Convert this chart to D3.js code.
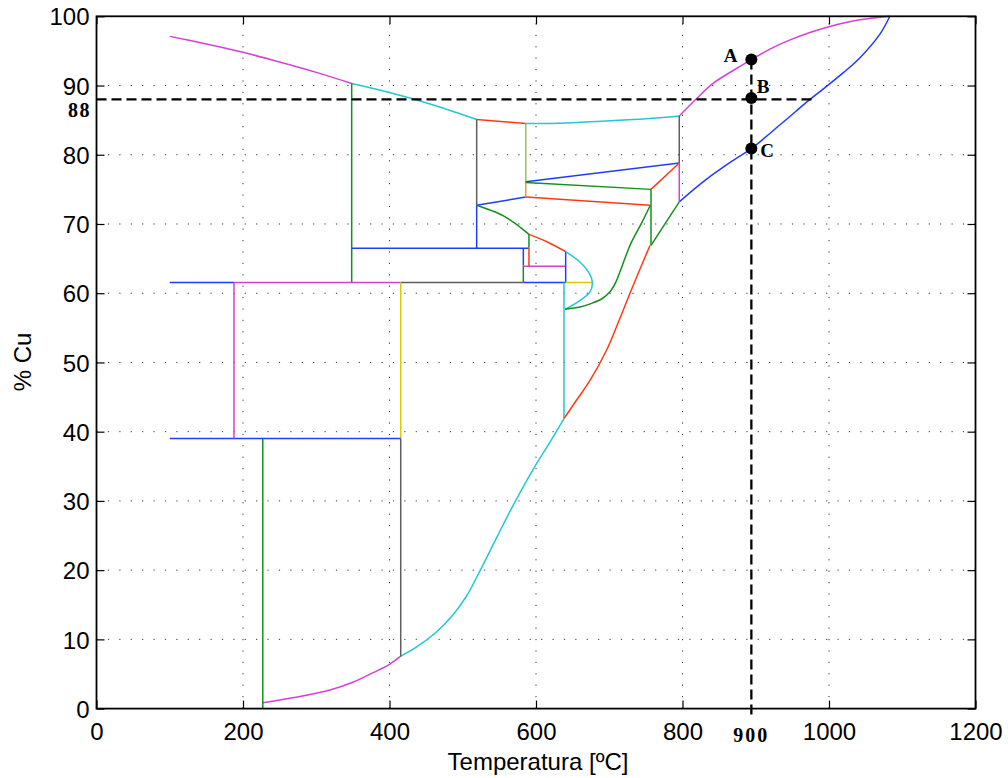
<!DOCTYPE html>
<html>
<head>
<meta charset="utf-8">
<script src="https://cdn.jsdelivr.net/npm/d3@7"></script>
<style>
  html, body { margin: 0; padding: 0; background: #fff; }
  svg { display: block; }
  .tick text { font-family: "Liberation Sans", Arial, Helvetica, sans-serif; font-size: 24px; fill: #000; }
</style>
</head>
<body>
<script>
// ---------- data ----------
const xTicks = [0, 200, 400, 600, 800, 1000, 1200];
const yTicks = [0, 10, 20, 30, 40, 50, 60, 70, 80, 90, 100];
const xLabel = "Temperatura [ºC]";
const yLabel = "% Cu";

// reference construction
const refT = 894;          // vertical dashed (labelled 900)
const refCu = 88;          // horizontal dashed (labelled 88)
const refTLabel = "900";
const refCuLabel = "88";
const refHEnd = 978.6;     // end of horizontal dashed line
const refVBottom = -1.1;   // vertical dashed runs a bit below the axis
const points = [["A", 894, 93.75], ["B", 894, 88.2], ["C", 894, 80.9]];

// phase-boundary segments  [T (ºC), Cu (%)]
const magentaTopLeft  = [[100,97.1],[150,96.0],[200,94.8],[250,93.4],[300,91.9],[348.4,90.3]];
const cyanTopLeft     = [[348.4,90.3],[400,89.0],[460,87.2],[519,85.1]];
const redTop          = [[519,85.1],[586,84.5]];
const cyanTopRight    = [[586,84.5],[640,84.6],[700,84.9],[750,85.2],[795.6,85.6]];
const magentaTopRight = [[795.6,85.6],[820,88.2],[841.6,90.3],[868,92.1],[894,93.75],[920,95.3],[946.8,96.6],[975,97.7],[1000,98.5],[1040,99.45],[1083,100]];
const blueRight       = [[795.6,73.2],[830.7,76.3],[869.4,79.2],[894,80.9],[934,84.4],[974,88.0],[994.5,89.7],[1020,91.9],[1043,94.1],[1070,97.5],[1083,100]];
const grayV519        = [[519,85.1],[519,72.7]];
const blueV519        = [[519,72.7],[519,66.5]];
const blueSlant519    = [[519,72.7],[586,73.9]];
const lgreenV586      = [[586,84.5],[586,76.1]];
const orangeV586      = [[586,76.1],[586,73.9]];
const blueUpper586    = [[586,76.1],[795.6,78.8]];
const greenUpper586   = [[586,76.0],[757,75.0]];
const redLower586     = [[586,73.9],[755.6,72.7]];
const redShort757     = [[757,75.0],[795.6,78.8]];
const greenV757       = [[757,75.0],[757,66.9]];
const greenSlant757   = [[757,66.9],[795.6,73.2]];
const grayV796        = [[795.6,85.6],[795.6,78.8]];
const magentaV796     = [[795.6,78.8],[795.6,73.2]];
const greenV348       = [[348.4,90.3],[348.4,61.55]];
const blueH665        = [[348.4,66.5],[590.4,66.5]];
const blueV583        = [[582.7,66.5],[582.7,64.0]];
const greenV583       = [[582.7,64.0],[582.7,61.55]];
const greenCurve519   = [[519,72.7],[540,71.9],[555,71.2],[570,70.2],[580,69.4],[590.4,68.5]];
const greenV590       = [[590.4,68.5],[590.4,66.6]];
const redV590         = [[590.4,66.6],[590.4,63.9]];
const redCurve590     = [[590.4,68.5],[615.5,67.4],[640.5,66.0]];
const magentaH639     = [[582.7,63.9],[640.5,63.9]];
const blueV640        = [[640.5,66.0],[640.5,61.55]];
const blueH615b       = [[582.7,61.55],[640.5,61.55]];
const grayH615        = [[415.3,61.55],[582.7,61.55]];
const yellowH615      = [[640.5,61.55],[676.9,61.55]];
const magentaH615     = [[187.7,61.55],[415.3,61.55]];
const blueH615a       = [[100,61.55],[187.7,61.55]];
const cyanBulge       = [[640.5,66.0],[660,64.5],[672,63.0],[676.9,61.55],[673.7,60.2],[658,58.8],[639.6,57.7]];
const cyanV638        = [[638.2,61.55],[638.2,41.9]];
const greenCurve640   = [[639.6,57.7],[660,58.0],[675,58.5],[690,59.2],[701,60.2],[709,61.6],[715,63.2],[722,65.2],[730,67.3],[745,70.3],[756,72.7]];
const redCurve638     = [[638.2,41.9],[655,44.5],[673.7,47.4],[696.5,51.8],[712,55.7],[728.3,60.0],[742,63.5],[755.6,66.9]];
const cyanBig         = [[414.3,7.5],[437.1,8.9],[464.4,11.1],[487.1,13.6],[505.4,16.3],[523.5,19.9],[546.3,24.7],[569,29.4],[596.3,34.6],[619.1,38.5],[638.2,41.9]];
const magentaBottom   = [[227,0.85],[270,1.6],[318.8,2.7],[350,3.8],[377.9,5.2],[400,6.4],[414.3,7.5]];
const greenV227       = [[227,39.0],[227,0]];
const grayV415        = [[415.3,39.0],[415.3,7.5]];
const yellowV415      = [[415.3,61.55],[415.3,39.0]];
const blueH39         = [[100,39.0],[415.3,39.0]];
const magentaV188     = [[187.7,61.55],[187.7,39.0]];

// ---------- styles ----------
const C = {
  blue: "#1f3cff", red: "#ff3a14", green: "#13901b", cyan: "#22c8d2",
  magenta: "#d540d5", yellow: "#d2cc00", gray: "#5e5e5e", lgreen: "#95c93f", orange: "#e8a024"
};
const segments = [
  [magentaTopLeft, C.magenta, true], [cyanTopLeft, C.cyan, true], [redTop, C.red],
  [cyanTopRight, C.cyan, true], [magentaTopRight, C.magenta, true], [blueRight, C.blue, true],
  [grayV519, C.gray], [blueV519, C.blue], [blueSlant519, C.blue], [lgreenV586, C.lgreen],
  [orangeV586, C.orange], [blueUpper586, C.blue], [greenUpper586, C.green], [redLower586, C.red],
  [redShort757, C.red], [greenV757, C.green], [greenSlant757, C.green], [grayV796, C.gray],
  [magentaV796, C.magenta], [greenV348, C.green], [blueH665, C.blue], [blueV583, C.blue],
  [greenV583, C.green], [greenCurve519, C.green, true], [greenV590, C.green], [redV590, C.red],
  [redCurve590, C.red, true], [magentaH639, C.magenta], [blueV640, C.blue], [blueH615b, C.blue],
  [grayH615, C.gray], [yellowH615, C.yellow], [magentaH615, C.magenta], [blueH615a, C.blue],
  [cyanBulge, C.cyan, true], [cyanV638, C.cyan], [greenCurve640, C.green, true],
  [redCurve638, C.red, true], [cyanBig, C.cyan, true], [magentaBottom, C.magenta, true],
  [greenV227, C.green], [grayV415, C.gray], [yellowV415, C.yellow], [blueH39, C.blue],
  [magentaV188, C.magenta]
];

// ---------- chart ----------
const W = 1008, H = 778;
const pLeft = 96.5, pRight = 975.5, pTop = 16.3, pBottom = 708.6;

const svg = d3.select("body").append("svg").attr("width", W).attr("height", H);
const x = d3.scaleLinear().domain([0, 1200]).range([pLeft, pRight]);
const y = d3.scaleLinear().domain([0, 100]).range([pBottom, pTop]);

// grid
const grid = svg.append("g").attr("stroke", "#333").attr("stroke-width", 1).attr("stroke-dasharray", "1.2,10.2");
xTicks.filter(t => t > 0 && t < 1200).forEach(t => {
  grid.append("line").attr("x1", x(t)).attr("x2", x(t)).attr("y1", pBottom).attr("y2", pTop);
});
yTicks.filter(t => t > 0 && t < 100).forEach(t => {
  grid.append("line").attr("y1", y(t)).attr("y2", y(t)).attr("x1", pLeft).attr("x2", pRight);
});

// curves
const lineStraight = d3.line().x(d => x(d[0])).y(d => y(d[1]));
const lineSmooth = d3.line().x(d => x(d[0])).y(d => y(d[1])).curve(d3.curveCatmullRom.alpha(0.5));
const g = svg.append("g").attr("fill", "none").attr("stroke-width", 1.5);
segments.forEach(([data, col, smooth]) => {
  g.append("path").attr("d", (smooth ? lineSmooth : lineStraight)(data)).attr("stroke", col);
});

// reference dashed lines
svg.append("line")
  .attr("x1", x(0)).attr("x2", x(refHEnd)).attr("y1", y(refCu)).attr("y2", y(refCu))
  .attr("stroke", "#000").attr("stroke-width", 2.3).attr("stroke-dasharray", "10,5");
svg.append("line")
  .attr("x1", x(refT)).attr("x2", x(refT)).attr("y1", y(points[0][2])).attr("y2", y(refVBottom))
  .attr("stroke", "#000").attr("stroke-width", 2.3).attr("stroke-dasharray", "10,5");

// points
svg.append("g").selectAll("circle").data(points).join("circle")
  .attr("cx", d => x(d[1])).attr("cy", d => y(d[2])).attr("r", 6).attr("fill", "#000");
const labelOffsets = { A: [-27.5, 2], B: [5.5, -4.5], C: [9, 8] };
svg.append("g").selectAll("text").data(points).join("text")
  .attr("x", d => x(d[1]) + labelOffsets[d[0]][0])
  .attr("y", d => y(d[2]) + labelOffsets[d[0]][1])
  .attr("font-family", "'Liberation Serif', 'Times New Roman', serif")
  .attr("font-weight", "bold").attr("font-size", 19)
  .text(d => d[0]);

// axes (ticks on all four sides, inward)
svg.append("g").attr("transform", `translate(0,${pBottom})`)
  .call(d3.axisBottom(x).tickValues(xTicks).tickSize(-8).tickPadding(14).tickFormat(d3.format("d")))
  .call(a => a.select(".domain").remove());
svg.append("g").attr("transform", `translate(0,${pTop})`)
  .call(d3.axisTop(x).tickValues(xTicks).tickSize(-8).tickFormat(""))
  .call(a => a.select(".domain").remove());
svg.append("g").attr("transform", `translate(${pLeft},0)`)
  .call(d3.axisLeft(y).tickValues(yTicks).tickSize(-8).tickPadding(7).tickFormat(d3.format("d")))
  .call(a => a.select(".domain").remove())
  .call(a => a.selectAll(".tick text").attr("dy", "0.36em"));
svg.append("g").attr("transform", `translate(${pRight},0)`)
  .call(d3.axisRight(y).tickValues(yTicks).tickSize(-8).tickFormat(""))
  .call(a => a.select(".domain").remove());
svg.selectAll(".tick line").attr("stroke", "#000").attr("stroke-width", 1.2);

// box
svg.append("rect").attr("x", pLeft).attr("y", pTop).attr("width", pRight - pLeft).attr("height", pBottom - pTop)
  .attr("fill", "none").attr("stroke", "#000").attr("stroke-width", 1.8);

// reference labels
svg.append("text").attr("x", x(refT)).attr("y", 742).attr("text-anchor", "middle")
  .attr("font-family", "'Liberation Serif', 'Times New Roman', serif").attr("font-weight", "bold")
  .attr("font-size", 20).attr("letter-spacing", 2).text(refTLabel);
svg.append("text").attr("x", 91).attr("y", y(refCu) + 17.5).attr("text-anchor", "end")
  .attr("font-family", "'Liberation Serif', 'Times New Roman', serif").attr("font-weight", "bold")
  .attr("font-size", 20).attr("letter-spacing", 1.5).text(refCuLabel);

// axis titles
svg.append("text").attr("x", 538).attr("y", 769.5).attr("text-anchor", "middle")
  .attr("font-family", "'Liberation Sans', Arial, sans-serif").attr("font-size", 24).text(xLabel);
svg.append("text").attr("transform", `translate(31,362) rotate(-90)`).attr("text-anchor", "middle")
  .attr("font-family", "'Liberation Sans', Arial, sans-serif").attr("font-size", 24).text(yLabel);
</script>
</body>
</html>
